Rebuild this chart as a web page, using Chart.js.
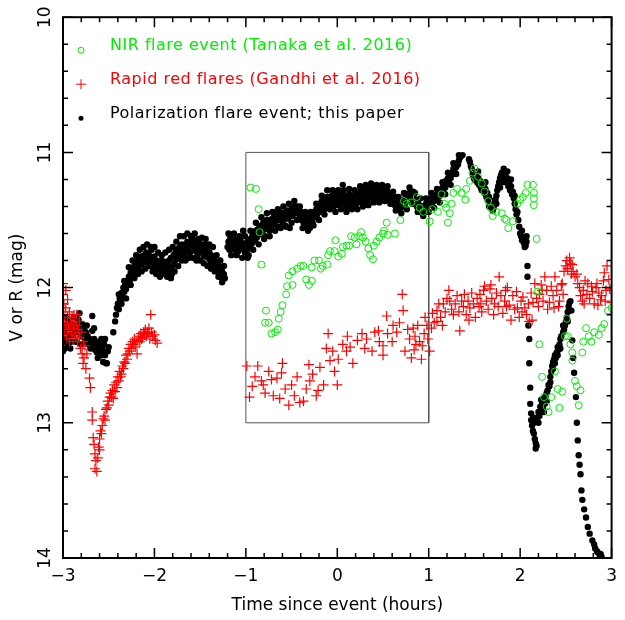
<!DOCTYPE html>
<html>
<head>
<meta charset="utf-8">
<script src="https://cdn.jsdelivr.net/npm/chart.js@4.4.1/dist/chart.umd.min.js"></script>
<style>
  body { margin: 0; background: #fff; }
  #wrap { width: 625px; height: 620px; }
</style>
</head>
<body>
<div id="wrap"><canvas id="lc" width="625" height="620"></canvas></div>
<script>
// NIR flare event (Tanaka et al. 2016): [hours, mag]
const nirFlare = [
  [-0.95,11.26],[-0.89,11.27],[-0.86,11.42],[-0.85,11.59],[-0.83,11.83],[-0.78,12.17],[-0.79,12.26],[-0.75,12.26],
  [-0.72,12.34],[-0.68,12.33],[-0.65,12.31],[-0.64,12.23],[-0.62,12.18],[-0.60,12.13],[-0.56,12.05],[-0.55,11.99],
  [-0.53,11.91],[-0.49,11.88],[-0.49,11.98],[-0.44,11.86],[-0.40,11.84],[-0.37,11.84],[-0.34,11.94],[-0.31,11.98],
  [-0.28,11.95],[-0.28,11.85],[-0.25,11.80],[-0.20,11.80],[-0.18,11.86],[-0.16,11.84],[-0.11,11.83],[-0.10,11.76],
  [-0.08,11.73],[-0.03,11.73],[-0.02,11.65],[0.01,11.77],[0.05,11.75],[0.06,11.70],[0.10,11.69],[0.13,11.69],
  [0.15,11.62],[0.19,11.63],[0.21,11.68],[0.24,11.62],[0.26,11.59],[0.28,11.63],[0.31,11.66],[0.34,11.71],
  [0.36,11.76],[0.39,11.79],[0.40,11.69],[0.43,11.66],[0.46,11.63],[0.50,11.60],[0.51,11.58],[0.54,11.52],
  [0.55,11.61],[0.63,11.60],[0.69,11.50],[0.73,11.36],[0.76,11.38],[0.81,11.37],[0.87,11.33],[0.90,11.41],
  [0.94,11.44],[1.01,11.51],[1.04,11.42],[1.10,11.44],[1.14,11.31],[1.17,11.38],[1.19,11.41],[1.21,11.52],
  [1.23,11.45],[1.25,11.38],[1.27,11.30],[1.31,11.27],[1.36,11.30],[1.40,11.35],[1.41,11.27],[1.45,11.21],
  [1.48,11.15],[1.50,11.12],[1.54,11.18],[1.58,11.23],[1.61,11.29],[1.65,11.36],[1.68,11.41],[1.70,11.47],
  [1.74,11.44],[1.80,11.45],[1.83,11.49],[1.85,11.50],[1.87,11.56],[1.92,11.51],[1.97,11.38],[2.00,11.35],
  [2.03,11.33],[2.06,11.30],[2.08,11.24],[2.14,11.24],[2.15,11.30],[2.15,11.34],[2.15,11.39],[2.18,11.64],
  [2.19,12.03],[2.21,12.42],[2.24,12.66],[2.26,12.81],[2.29,12.88],[2.31,12.92],[2.34,12.81],[2.38,12.62],
  [2.41,12.75],[2.43,12.89],[2.46,12.77],[2.49,12.36],[2.51,12.23],[2.52,12.36],[2.55,12.42],[2.57,12.48],
  [2.57,12.54],[2.60,12.69],[2.62,12.73],[2.66,12.76],[2.64,12.87],[2.68,12.48],[2.69,12.40],[2.72,12.30],
  [2.75,12.36],[2.78,12.40],[2.81,12.33],[2.86,12.35],[2.89,12.30],[2.92,12.27],[2.96,12.17],[3.00,12.15]
];

// Rapid red flares (Gandhi et al. 2016): [hours, mag]
const redFlares = [
  [-3.00,11.97],[-3.00,12.05],[-2.99,12.12],[-2.99,12.20],[-2.98,12.26],[-2.98,12.33],[-2.97,12.02],[-2.97,12.15],
  [-2.96,12.28],[-2.96,12.38],[-2.95,12.09],[-2.95,12.22],[-2.94,12.31],[-2.93,12.40],[-2.93,12.18],[-2.92,12.26],
  [-2.91,12.35],[-2.90,12.22],[-2.90,12.30],[-2.89,12.38],[-2.88,12.27],[-2.88,12.20],[-2.87,12.33],[-2.86,12.36],
  [-2.85,12.20],[-2.85,12.28],[-2.84,12.40],[-2.83,12.31],[-2.82,12.25],[-2.82,12.37],[-2.81,12.45],[-2.80,12.33],
  [-2.79,12.49],[-2.78,12.40],[-2.78,12.56],[-2.77,12.52],[-2.76,12.43],[-2.75,12.60],[-2.74,12.49],
  [-2.71,12.67],[-2.70,12.74],[-2.68,12.92],[-2.68,12.98],[-2.67,13.11],[-2.66,13.16],[-2.65,13.23],[-2.64,13.28],
  [-2.65,13.34],[-2.63,13.36],[-2.62,13.26],[-2.61,13.18],[-2.60,13.20],[-2.60,13.12],[-2.59,13.06],[-2.58,13.08],
  [-2.57,13.02],[-2.56,12.97],[-2.55,12.95],[-2.54,12.98],[-2.53,12.90],[-2.52,12.89],[-2.51,12.84],[-2.50,12.87],
  [-2.49,12.81],[-2.48,12.78],[-2.47,12.81],[-2.46,12.76],[-2.45,12.82],[-2.44,12.72],[-2.43,12.77],[-2.42,12.70],
  [-2.41,12.74],[-2.40,12.66],[-2.39,12.69],[-2.38,12.62],[-2.37,12.66],[-2.36,12.64],[-2.35,12.58],[-2.34,12.60],
  [-2.33,12.55],[-2.32,12.56],[-2.31,12.50],[-2.30,12.53],[-2.29,12.49],[-2.28,12.45],[-2.27,12.47],[-2.26,12.42],
  [-2.25,12.45],[-2.24,12.40],[-2.23,12.42],[-2.22,12.38],[-2.21,12.44],[-2.20,12.40],[-2.19,12.49],[-2.18,12.39],
  [-2.17,12.36],[-2.16,12.40],[-2.15,12.34],[-2.14,12.38],[-2.13,12.37],[-2.12,12.33],[-2.11,12.35],[-2.10,12.31],
  [-2.09,12.36],[-2.08,12.33],[-2.07,12.34],[-2.06,12.30],[-2.05,12.38],[-2.04,12.20],[-2.03,12.33],[-2.02,12.36],
  [-2.00,12.35],[-1.99,12.39],[-1.97,12.41],
  [-0.99,12.58],[-0.96,12.81],[-0.93,12.73],[-0.87,12.58],[-0.83,12.69],[-0.79,12.78],[-0.75,12.62],[-0.70,12.80],
  [-0.66,12.67],[-0.61,12.63],[-0.60,12.56],[-0.57,12.75],[-0.53,12.87],[-0.50,12.72],[-0.44,12.66],[-0.41,12.85],
  [-0.37,12.84],[-0.34,12.75],[-0.31,12.57],[-0.30,12.69],[-0.23,12.80],[-0.21,12.76],[-0.19,12.59],[-0.15,12.72],
  [-0.12,12.45],[-0.10,12.34],[-0.08,12.54],[-0.05,12.47],[0.00,12.72],[0.01,12.53],[0.06,12.42],[0.10,12.47],
  [0.11,12.36],[0.17,12.56],[0.22,12.39],[0.27,12.34],[0.32,12.38],[0.38,12.47],[0.41,12.33],[0.45,12.32],
  [0.50,12.43],[0.50,12.50],[0.54,12.21],[0.55,12.34],[0.61,12.28],[0.65,12.33],[0.71,12.05],[0.72,12.17],
  [0.74,12.47],[0.77,12.31],[0.79,12.38],[0.81,12.52],[0.83,12.30],[0.85,12.36],[0.86,12.42],[0.88,12.28],
  [0.90,12.40],[0.92,12.53],[0.93,12.43],[0.95,12.34],[0.98,12.28],[0.99,12.38],[1.01,12.47],[1.03,12.30],
  [1.04,12.19],[1.06,12.26],[1.09,12.25],[1.09,12.17],[1.11,12.12],[1.13,12.22],[1.16,12.12],[1.18,12.18],
  [1.20,12.08],[1.23,12.10],[1.25,12.16],[1.27,12.20],[1.29,12.12],[1.31,12.06],[1.33,12.18],[1.34,12.32],
  [1.36,12.10],[1.38,12.14],[1.39,12.05],[1.41,12.20],[1.43,12.10],[1.45,12.15],[1.47,12.04],[1.49,12.12],
  [1.51,12.22],[1.53,12.08],[1.55,12.14],[1.56,12.05],[1.58,12.18],[1.60,12.02],[1.61,11.99],[1.63,12.10],
  [1.65,12.16],[1.67,12.01],[1.69,12.08],[1.71,12.20],[1.72,12.12],[1.74,12.04],[1.76,12.14],[1.77,11.92],
  [1.79,12.06],[1.81,12.19],[1.83,12.10],[1.84,12.02],[1.86,12.00],[1.88,12.13],[1.90,12.24],[1.92,12.06],
  [1.94,12.16],[1.96,12.03],[1.97,12.15],[1.99,12.22],[2.01,12.10],[2.03,12.07],[2.05,12.15],[2.07,12.20],
  [2.09,12.12],[2.10,12.25],[2.12,12.04],[2.14,12.11],[2.16,11.97],[2.18,12.08],[2.20,12.14],[2.21,12.05],
  [2.23,11.98],[2.25,12.10],[2.27,11.92],[2.29,12.02],[2.30,12.16],[2.32,12.11],[2.34,11.99],[2.36,12.06],
  [2.38,11.92],[2.40,12.02],[2.42,12.14],[2.43,12.10],[2.45,11.98],[2.46,11.97],[2.48,11.88],[2.50,11.84],
  [2.51,11.80],[2.52,11.86],[2.54,11.78],[2.55,11.82],[2.57,11.83],[2.58,11.88],[2.60,11.92],[2.62,11.90],
  [2.63,11.97],[2.65,12.00],[2.66,12.06],[2.68,12.10],[2.69,12.02],[2.71,11.95],[2.73,12.05],[2.74,11.97],
  [2.76,12.08],[2.78,11.99],[2.79,12.03],[2.81,12.12],[2.83,12.00],[2.84,11.97],[2.86,12.04],[2.88,12.09],
  [2.89,12.06],[2.91,11.95],[2.92,11.89],[2.94,12.02],[2.95,11.84],[2.97,11.94],[2.98,12.01],[3.00,12.11],
  [-0.90,12.66],[-0.81,12.72],[-0.72,12.68],[-0.63,12.82],[-0.47,12.80],[-0.27,12.64],[-0.03,12.62],[0.14,12.44],
  [0.30,12.45],[0.46,12.40],[0.60,12.40],[0.68,12.26],[0.84,12.46],[0.96,12.22],[1.15,12.28],[1.22,12.02],
  [1.44,12.24],[1.57,12.12],[1.68,11.98],[1.85,12.14],[2.02,12.18],[2.13,12.24],[2.24,12.02],[2.37,12.15],
  [2.47,12.05],[2.56,11.90],[2.70,12.12],[2.85,12.13],[2.93,12.10]
];

// Polarization flare event; this paper: [hours, mag]
const polFlare = [
  [-3.00,12.47],[-3.00,12.40],[-2.99,12.33],[-2.98,12.45],[-2.98,12.28],[-2.97,12.38],[-2.96,12.30],[-2.95,12.42],
  [-2.94,12.25],[-2.93,12.35],[-2.92,12.30],[-2.91,12.40],[-2.90,12.27],[-2.89,12.35],[-2.88,12.22],[-2.87,12.32],
  [-2.86,12.40],[-2.85,12.28],[-2.84,12.33],[-2.83,12.24],[-2.82,12.19],[-2.81,12.30],[-2.80,12.36],[-2.79,12.27],
  [-2.78,12.33],[-2.77,12.30],[-2.76,12.38],[-2.75,12.33],[-2.74,12.40],[-2.73,12.36],[-2.72,12.42],[-2.71,12.38],
  [-2.70,12.45],[-2.69,12.40],[-2.68,12.21],[-2.68,12.32],[-2.67,12.43],[-2.66,12.38],[-2.65,12.46],[-2.64,12.42],
  [-2.63,12.48],[-2.62,12.44],[-2.61,12.40],[-2.60,12.47],[-2.59,12.43],[-2.58,12.50],[-2.57,12.45],[-2.56,12.48],
  [-2.55,12.42],[-2.54,12.50],[-2.53,12.56],[-2.52,12.56],[-2.51,12.47],[-2.50,12.44],
  [-2.45,12.33],[-2.43,12.25],[-2.41,12.15],[-2.40,12.12],[-2.39,12.16],[-2.38,12.08],[-2.37,12.10],[-2.36,12.04],
  [-2.35,12.06],[-2.34,12.00],[-2.33,12.03],[-2.32,11.98],[-2.31,12.01],[-2.30,11.95],[-2.29,11.98],[-2.28,11.92],
  [-2.27,11.95],[-2.26,11.89],[-2.25,11.92],[-2.24,11.86],[-2.23,11.90],[-2.22,11.84],[-2.21,11.88],[-2.20,11.82],
  [-2.19,11.86],[-2.18,11.80],[-2.17,11.84],[-2.16,11.80],[-2.15,11.77],[-2.14,11.83],[-2.13,11.78],[-2.12,11.81],
  [-2.11,11.76],[-2.10,11.80],[-2.09,11.74],[-2.08,11.78],[-2.07,11.82],[-2.06,11.76],[-2.05,11.80],[-2.04,11.84],
  [-2.03,11.72],[-2.02,11.78],[-2.01,11.82],[-2.00,11.77],[-1.99,11.85],[-1.98,11.80],[-1.97,11.86],[-1.96,11.82],
  [-1.95,11.88],[-1.94,11.83],[-1.93,11.86],[-1.92,11.80],[-1.91,11.87],[-1.90,11.83],[-1.89,11.88],[-1.88,11.81],
  [-1.87,11.85],[-1.86,11.83],[-1.85,11.89],[-1.84,11.80],[-1.83,11.86],[-1.82,11.78],[-1.81,11.90],[-1.80,11.84],
  [-1.79,11.76],[-1.78,11.82],[-1.77,11.74],[-1.76,11.79],[-1.75,11.72],[-1.74,11.71],[-1.73,11.77],[-1.72,11.70],
  [-1.71,11.75],[-1.70,11.68],[-1.69,11.73],[-1.68,11.70],[-1.67,11.76],[-1.66,11.68],[-1.65,11.72],[-1.64,11.66],
  [-1.63,11.71],[-1.62,11.67],[-1.61,11.74],[-1.60,11.69],[-1.59,11.65],[-1.58,11.64],[-1.57,11.70],[-1.56,11.66],
  [-1.55,11.73],[-1.54,11.68],[-1.53,11.76],[-1.52,11.70],[-1.51,11.66],[-1.50,11.72],[-1.49,11.68],[-1.48,11.74],
  [-1.47,11.70],[-1.46,11.77],[-1.45,11.72],[-1.44,11.68],[-1.43,11.75],[-1.42,11.71],[-1.41,11.78],[-1.40,11.74],
  [-1.39,11.80],[-1.38,11.76],[-1.37,11.82],[-1.36,11.78],[-1.35,11.84],[-1.34,11.80],[-1.33,11.86],[-1.32,11.83],
  [-1.31,11.88],[-1.30,11.84],[-1.29,11.90],[-1.28,11.87],[-1.27,11.92],[-1.26,11.88],[-1.25,11.94],[-1.24,11.90],
  [-1.23,11.93],
  [-1.20,11.70],[-1.19,11.66],[-1.18,11.72],[-1.17,11.63],[-1.16,11.68],[-1.15,11.65],[-1.14,11.70],[-1.13,11.66],
  [-1.12,11.72],[-1.11,11.64],[-1.10,11.69],[-1.09,11.66],[-1.08,11.73],[-1.07,11.68],[-1.06,11.65],[-1.05,11.71],
  [-1.04,11.67],[-1.03,11.58],[-1.02,11.70],[-1.01,11.74],[-1.00,11.68],[-0.99,11.73],[-0.98,11.66],[-0.97,11.76],
  [-0.96,11.70],[-0.95,11.64],[-0.94,11.68],[-0.93,11.62],[-0.92,11.66],[-0.91,11.60],[-0.90,11.65],[-0.89,11.58],
  [-0.88,11.63],[-0.87,11.57],[-0.86,11.61],[-0.85,11.55],[-0.84,11.60],[-0.83,11.54],[-0.82,11.58],[-0.81,11.52],
  [-0.80,11.57],[-0.79,11.62],[-0.78,11.55],[-0.77,11.50],[-0.76,11.56],[-0.75,11.52],[-0.74,11.58],[-0.73,11.50],
  [-0.72,11.55],[-0.71,11.49],[-0.70,11.53],[-0.69,11.47],[-0.68,11.52],[-0.67,11.46],[-0.66,11.50],[-0.65,11.55],
  [-0.64,11.48],[-0.63,11.44],[-0.62,11.50],[-0.61,11.46],[-0.60,11.52],[-0.59,11.45],[-0.58,11.49],[-0.57,11.54],
  [-0.56,11.47],[-0.55,11.43],[-0.54,11.49],[-0.53,11.44],[-0.52,11.56],[-0.51,11.46],[-0.50,11.42],[-0.49,11.47],
  [-0.48,11.43],[-0.47,11.40],[-0.46,11.45],[-0.45,11.41],[-0.44,11.40],[-0.43,11.44],[-0.42,11.42],[-0.41,11.47],
  [-0.40,11.44],[-0.39,11.50],[-0.38,11.46],[-0.37,11.52],[-0.36,11.48],[-0.35,11.55],[-0.34,11.50],[-0.33,11.53],
  [-0.32,11.48],[-0.31,11.55],[-0.30,11.56],[-0.29,11.50],[-0.28,11.46],[-0.27,11.52],[-0.26,11.47],[-0.25,11.44],
  [-0.24,11.48],[-0.23,11.42],[-0.22,11.46],[-0.21,11.40],[-0.20,11.44],[-0.19,11.38],[-0.18,11.42],[-0.17,11.36],
  [-0.16,11.40],[-0.15,11.37],[-0.14,11.42],[-0.13,11.35],[-0.12,11.39],[-0.11,11.33],[-0.10,11.37],[-0.09,11.41],
  [-0.08,11.35],[-0.07,11.38],[-0.06,11.32],[-0.05,11.36],[-0.04,11.40],[-0.03,11.34],[-0.02,11.38],[-0.01,11.31],
  [0.00,11.35],[0.01,11.39],[0.02,11.33],[0.03,11.37],[0.04,11.30],[0.05,11.34],[0.06,11.24],[0.07,11.38],
  [0.08,11.32],[0.09,11.36],[0.10,11.40],[0.11,11.34],[0.12,11.37],[0.13,11.31],[0.14,11.35],[0.15,11.39],
  [0.16,11.33],[0.17,11.37],[0.18,11.32],[0.19,11.36],[0.20,11.40],[0.21,11.35],[0.22,11.31],[0.23,11.37],
  [0.24,11.33],[0.25,11.29],[0.26,11.35],[0.27,11.31],[0.28,11.37],[0.29,11.33],[0.30,11.28],[0.31,11.34],
  [0.32,11.30],[0.33,11.36],[0.34,11.32],[0.35,11.27],[0.36,11.33],[0.37,11.29],[0.38,11.35],[0.39,11.25],
  [0.40,11.31],[0.41,11.27],[0.42,11.34],[0.43,11.29],[0.44,11.32],[0.45,11.28],[0.46,11.34],[0.47,11.30],
  [0.48,11.27],[0.49,11.32],[0.50,11.29],[0.51,11.33],[0.52,11.28],[0.53,11.31],[0.54,11.30],[0.55,11.29],
  [0.56,11.32],[0.57,11.35],[0.58,11.31],[0.59,11.36],[0.60,11.33],[0.61,11.38],[0.62,11.34],[0.63,11.39],
  [0.64,11.36],[0.65,11.33],[0.66,11.41],[0.67,11.37],[0.68,11.42],[0.69,11.39],[0.70,11.40],[0.71,11.36],
  [0.72,11.40],[0.73,11.35],[0.74,11.38],[0.75,11.33],[0.76,11.36],[0.77,11.31],[0.78,11.35],[0.79,11.30],
  [0.80,11.33],[0.81,11.29],[0.82,11.32],[0.83,11.29],[0.84,11.34],[0.85,11.38],[0.86,11.35],[0.87,11.40],
  [0.88,11.37],[0.89,11.42],[0.90,11.39],[0.91,11.44],[0.92,11.40],[0.93,11.45],[0.94,11.42],[0.95,11.40],
  [0.96,11.44],[0.97,11.38],[0.98,11.41],[0.99,11.36],[1.00,11.39],[1.01,11.35],[1.02,11.38],[1.03,11.34],
  [1.04,11.37],[1.05,11.33],[1.06,11.36],[1.07,11.32],[1.08,11.35],[1.09,11.31],[1.10,11.33],[1.11,11.30],
  [1.12,11.32],[1.13,11.28],[1.14,11.30],[1.15,11.26],[1.16,11.28],[1.17,11.24],[1.18,11.26],[1.19,11.21],
  [1.20,11.23],[1.21,11.19],[1.22,11.21],[1.23,11.17],[1.24,11.19],[1.25,11.15],[1.26,11.16],[1.27,11.12],
  [1.28,11.14],[1.29,11.10],[1.30,11.11],[1.31,11.08],[1.32,11.09],[1.33,11.06],[1.34,11.04],[1.35,11.03],
  [1.37,11.02],
  [1.44,11.05],[1.45,11.07],[1.47,11.12],[1.48,11.16],[1.49,11.18],[1.50,11.15],[1.51,11.20],[1.52,11.17],
  [1.53,11.22],[1.54,11.19],[1.55,11.24],[1.56,11.21],[1.57,11.26],[1.58,11.23],[1.59,11.28],[1.60,11.25],
  [1.61,11.30],[1.62,11.27],[1.63,11.33],[1.64,11.30],[1.65,11.35],[1.66,11.33],[1.67,11.38],[1.68,11.36],
  [1.69,11.40],[1.70,11.37],[1.71,11.41],[1.72,11.38],[1.73,11.35],[1.74,11.32],[1.75,11.28],[1.76,11.25],
  [1.77,11.22],[1.78,11.19],[1.79,11.17],[1.80,11.15],[1.81,11.18],[1.82,11.12],[1.83,11.20],[1.84,11.16],
  [1.85,11.22],[1.86,11.19],[1.87,11.25],[1.88,11.22],[1.89,11.28],[1.90,11.25],[1.91,11.31],[1.92,11.29],
  [1.93,11.34],[1.94,11.38],[1.95,11.42],[1.96,11.46],[1.97,11.44],[1.99,11.55],[2.00,11.60],[2.01,11.62],
  [2.02,11.65],[2.03,11.63],[2.04,11.67],[2.05,11.64],[2.06,11.69],[2.07,11.66],[2.08,11.84],[2.08,11.92],
  [2.09,12.28],[2.10,12.38],[2.10,12.56],[2.11,12.74],[2.11,12.86],[2.12,12.93],[2.12,12.98],[2.13,13.02],
  [2.14,12.96],[2.14,13.06],[2.15,13.08],[2.15,13.00],[2.16,13.12],[2.17,13.15],[2.17,13.19],[2.18,13.17],
  [2.19,12.96],[2.20,12.92],[2.21,12.95],[2.22,12.88],[2.23,12.92],[2.24,12.85],[2.25,12.89],[2.26,12.82],
  [2.27,12.86],[2.28,12.80],[2.29,12.84],[2.30,12.76],[2.31,12.72],[2.32,12.73],[2.33,12.66],[2.34,12.62],
  [2.35,12.58],[2.36,12.55],[2.37,12.53],[2.38,12.50],[2.39,12.52],[2.40,12.48],[2.41,12.50],[2.42,12.46],
  [2.43,12.42],[2.44,12.38],[2.45,12.36],[2.47,12.33],[2.48,12.31],[2.49,12.28],[2.50,12.25],[2.51,12.22],
  [2.52,12.18],[2.53,12.14],[2.54,12.11],[2.56,12.17],[2.57,12.39],[2.58,12.52],[2.59,12.63],[2.61,12.81],
  [2.62,13.00],[2.63,13.13],[2.64,13.24],[2.65,13.31],[2.66,13.38],[2.67,13.50],[2.68,13.57],[2.70,13.64],
  [2.72,13.70],[2.74,13.77],[2.76,13.82],[2.79,13.87],[2.81,13.90],[2.82,13.93],[2.84,13.95],[2.85,13.96],
  [2.87,13.98],[2.88,13.97],[2.89,13.99]
];

// the same run, the points lying off the main track
const polFlareSpread = [
  [-2.97,12.22],[-2.92,12.45],[-2.86,12.22],[-2.80,12.42],[-2.74,12.28],[-2.66,12.30],[-2.62,12.52],[-2.58,12.38],
  [-2.54,12.38],[-2.56,12.55],[-2.42,12.20],[-2.39,12.05],[-2.36,12.12],[-2.33,11.95],[-2.31,12.08],
  [-2.28,11.85],[-2.26,11.98],[-2.24,11.80],[-2.22,11.93],[-2.20,11.76],[-2.18,11.90],[-2.16,11.72],[-2.14,11.88],
  [-2.12,11.70],[-2.10,11.86],[-2.08,11.68],[-2.06,11.84],[-2.04,11.70],[-2.02,11.88],[-2.00,11.70],[-1.98,11.90],
  [-1.96,11.74],[-1.94,11.92],[-1.92,11.76],[-1.90,11.90],[-1.88,11.74],[-1.86,11.92],[-1.84,11.72],[-1.82,11.93],
  [-1.80,11.70],[-1.78,11.88],[-1.76,11.66],[-1.74,11.84],[-1.72,11.62],[-1.70,11.80],[-1.68,11.62],[-1.66,11.80],
  [-1.64,11.60],[-1.62,11.78],[-1.60,11.62],[-1.58,11.78],[-1.56,11.60],[-1.54,11.80],[-1.52,11.64],[-1.50,11.80],
  [-1.48,11.63],[-1.46,11.82],[-1.44,11.64],[-1.42,11.84],[-1.40,11.68],[-1.38,11.86],[-1.36,11.70],[-1.34,11.88],
  [-1.32,11.76],[-1.30,11.92],[-1.28,11.80],[-1.26,11.96],[-1.24,11.84],
  [-1.19,11.60],[-1.16,11.76],[-1.13,11.60],[-1.10,11.76],[-1.07,11.62],[-1.04,11.78],[-1.01,11.62],[-0.98,11.78],
  [-0.95,11.58],[-0.92,11.72],[-0.89,11.52],[-0.86,11.68],[-0.83,11.48],[-0.80,11.64],[-0.77,11.45],[-0.74,11.62],
  [-0.71,11.44],[-0.68,11.58],[-0.65,11.42],[-0.62,11.56],[-0.59,11.40],[-0.56,11.55],[-0.53,11.38],[-0.50,11.52],
  [-0.47,11.36],[-0.44,11.50],[-0.41,11.40],[-0.38,11.56],[-0.35,11.44],[-0.32,11.58],[-0.29,11.44],[-0.26,11.54],
  [-0.23,11.38],[-0.20,11.50],[-0.17,11.32],[-0.14,11.46],[-0.11,11.28],[-0.08,11.42],[-0.05,11.28],[-0.02,11.44],
  [0.01,11.28],[0.04,11.42],[0.07,11.28],[0.10,11.44],[0.13,11.27],[0.16,11.42],[0.19,11.28],[0.22,11.42],
  [0.25,11.25],[0.28,11.40],[0.31,11.24],[0.34,11.39],[0.37,11.23],[0.40,11.37],[0.43,11.24],[0.46,11.37],
  [0.49,11.24],[0.52,11.36],[0.55,11.25],[0.58,11.38],[0.61,11.29],[0.64,11.43],[0.67,11.33],[0.70,11.45],
  [0.73,11.30],[0.76,11.42],[0.79,11.26],[0.82,11.38],[0.85,11.30],[0.88,11.44],[0.91,11.34],[0.94,11.47],
  [0.97,11.34],[1.00,11.44],[1.03,11.30],[1.06,11.41],[1.09,11.27],[1.12,11.37],[1.15,11.22],[1.18,11.31],
  [1.21,11.15],[1.24,11.24],[1.27,11.08],[1.30,11.16],[1.33,11.02],
  [1.46,11.10],[1.50,11.20],[1.54,11.14],[1.58,11.28],[1.62,11.22],[1.66,11.40],[1.70,11.43],[1.74,11.38],
  [1.78,11.26],[1.82,11.22],[1.86,11.14],[1.90,11.20],[1.94,11.32],[1.98,11.50],[2.02,11.58],[2.05,11.70],
  [2.07,11.62],[2.20,13.00],[2.23,12.83],[2.26,12.92],[2.29,12.78],[2.33,12.70],[2.36,12.60],[2.38,12.56],
  [2.41,12.44],[2.44,12.45],[2.47,12.28],[2.52,12.25],[2.55,12.10]
];

// zoom box drawn on the plot (hours, mag corners)
const boxT = [-1, 1, 1, -1, -1];
const boxMag = [11, 11, 13, 13, 11];

const xTickStep = 0.2;
const yTickStep = 0.2;

const GREEN = '#00f000';

const legendRows = [
  { text: 'NIR flare event (Tanaka et al. 2016)', color: GREEN, mark: 'circle' },
  { text: 'Rapid red flares (Gandhi et al. 2016)', color: '#ff0000', mark: 'plus' },
  { text: 'Polarization flare event; this paper', color: '#000000', mark: 'dot' }
];

const FONT = 'DejaVu Sans';

function toXY(arr) {
  return arr.map(p => ({ x: p[0], y: p[1] }));
}

function isMajor(v) {
  return Math.abs(v - Math.round(v)) < 1e-6;
}

// frame + inward tick marks, like the original plot package
const frameTicks = {
  id: 'frameTicks',
  afterDraw(chart) {
    const ctx = chart.ctx;
    const a = chart.chartArea;
    const xs = chart.scales.x, ys = chart.scales.y;
    ctx.save();
    ctx.strokeStyle = '#000';
    ctx.lineWidth = 1.5;
    xs.ticks.forEach(t => {
      const px = xs.getPixelForValue(t.value);
      const len = isMajor(t.value) ? 10 : 5;
      ctx.beginPath();
      ctx.moveTo(px, a.bottom); ctx.lineTo(px, a.bottom - len);
      ctx.moveTo(px, a.top); ctx.lineTo(px, a.top + len);
      ctx.stroke();
    });
    ys.ticks.forEach(t => {
      const py = ys.getPixelForValue(t.value);
      const len = isMajor(t.value) ? 10 : 5;
      ctx.beginPath();
      ctx.moveTo(a.left, py); ctx.lineTo(a.left + len, py);
      ctx.moveTo(a.right, py); ctx.lineTo(a.right - len, py);
      ctx.stroke();
    });
    ctx.lineWidth = 2;
    ctx.strokeRect(a.left, a.top, a.right - a.left, a.bottom - a.top);
    ctx.restore();
  }
};

// legend written inside the plot, top-left
const insideLegend = {
  id: 'insideLegend',
  afterDraw(chart) {
    const ctx = chart.ctx;
    const a = chart.chartArea;
    ctx.save();
    ctx.font = '16px "' + FONT + '"';
    ctx.letterSpacing = '0.5px';
    ctx.textBaseline = 'middle';
    legendRows.forEach((r, i) => {
      const ty = a.top + 29 + i * 34;
      const mx = a.left + 18, my = ty + 4;
      ctx.strokeStyle = r.color;
      ctx.fillStyle = r.color;
      ctx.lineWidth = 1;
      ctx.beginPath();
      if (r.mark === 'circle') {
        ctx.arc(mx, my, 3, 0, Math.PI * 2);
        ctx.stroke();
      } else if (r.mark === 'plus') {
        ctx.moveTo(mx - 5, my); ctx.lineTo(mx + 5, my);
        ctx.moveTo(mx, my - 5); ctx.lineTo(mx, my + 5);
        ctx.stroke();
      } else {
        ctx.arc(mx, my, 2.5, 0, Math.PI * 2);
        ctx.fill();
      }
      ctx.fillText(r.text, a.left + 47, ty);
    });
    ctx.restore();
  }
};

new Chart(document.getElementById('lc'), {
  type: 'scatter',
  data: {
    datasets: [
      {
        label: 'NIR flare event (Tanaka et al. 2016)',
        data: toXY(nirFlare),
        pointStyle: 'circle',
        pointRadius: 3.5,
        borderWidth: 1,
        borderColor: GREEN,
        backgroundColor: 'rgba(0,0,0,0)'
      },
      {
        label: 'Rapid red flares (Gandhi et al. 2016)',
        data: toXY(redFlares),
        pointStyle: 'cross',
        pointRadius: 5,
        borderWidth: 1.2,
        borderColor: '#ff0000',
        backgroundColor: '#ff0000'
      },
      {
        label: 'Polarization flare event; this paper',
        data: toXY(polFlare.concat(polFlareSpread)),
        pointStyle: 'circle',
        pointRadius: 3.2,
        borderWidth: 0,
        borderColor: '#000',
        backgroundColor: '#000'
      },
      {
        label: 'box',
        data: boxT.map((t, i) => ({ x: t, y: boxMag[i] })),
        showLine: true,
        pointRadius: 0,
        borderWidth: 1,
        borderColor: '#555'
      }
    ]
  },
  options: {
    responsive: false,
    animation: false,
    devicePixelRatio: 1,
    layout: { padding: { top: 15, right: 13, left: 0, bottom: 0 } },
    plugins: { legend: { display: false }, tooltip: { enabled: false } },
    scales: {
      x: {
        type: 'linear',
        min: -3, max: 3,
        grid: { display: false, drawTicks: false },
        border: { display: false },
        ticks: {
          stepSize: xTickStep,
          autoSkip: false,
          maxRotation: 0,
          padding: 8,
          color: '#000',
          font: { family: FONT, size: 17 },
          callback: v => isMajor(v) ? String(Math.round(v)).replace('-', '\u2212') : ''
        },
        title: {
          display: true,
          text: 'Time since event (hours)',
          color: '#000',
          font: { family: FONT, size: 17 },
          padding: { top: 0, bottom: 4 }
        },
        afterFit: s => { s.height = 62; }
      },
      y: {
        type: 'linear',
        reverse: true,
        min: 10, max: 14,
        grid: { display: false, drawTicks: false },
        border: { display: false },
        ticks: {
          stepSize: yTickStep,
          autoSkip: false,
          minRotation: 90,
          maxRotation: 90,
          crossAlign: 'center',
          padding: 7,
          color: '#000',
          font: { family: FONT, size: 17 },
          callback: v => isMajor(v) ? String(Math.round(v)) : ''
        },
        title: {
          display: true,
          text: 'V or R (mag)',
          color: '#000',
          font: { family: FONT, size: 17 },
          padding: { top: 7, bottom: 0 }
        },
        afterFit: s => { s.width = 63; }
      }
    }
  },
  plugins: [frameTicks, insideLegend]
});
</script>
</body>
</html>
